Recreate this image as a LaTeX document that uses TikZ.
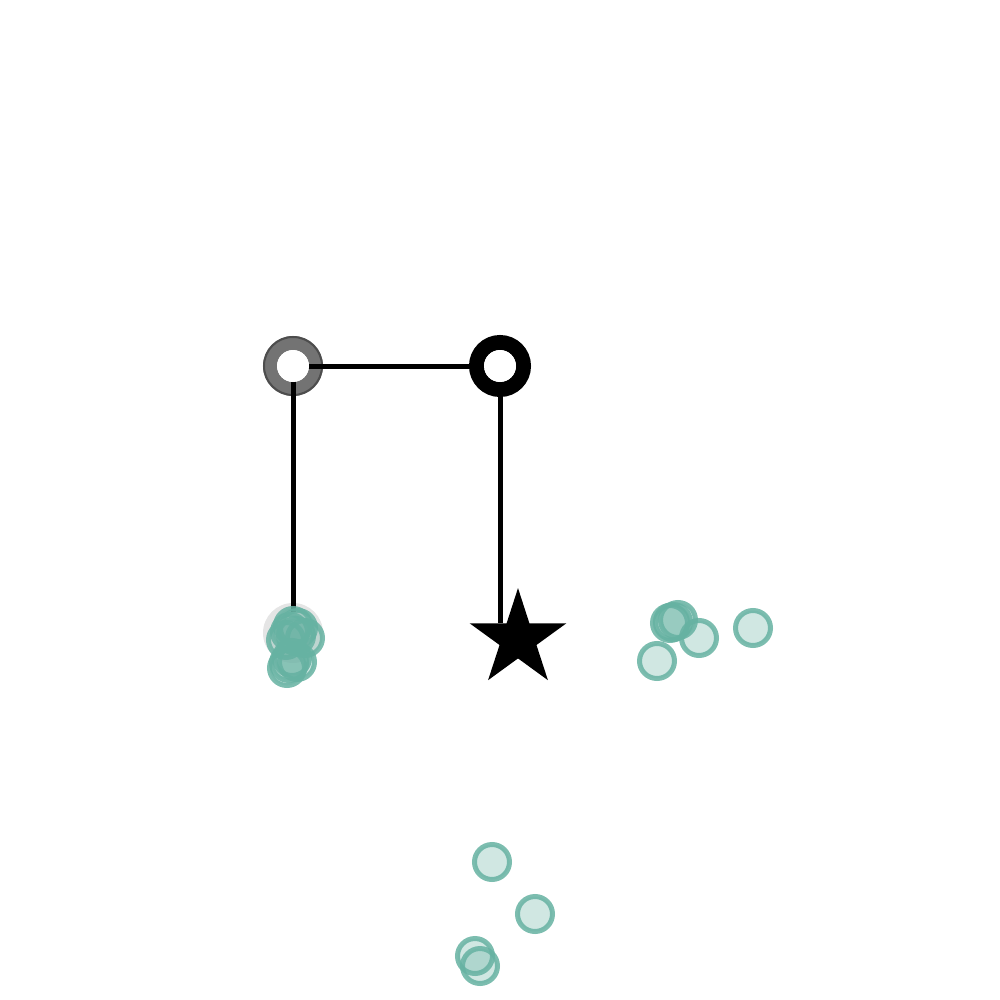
\documentclass[tikz,border=0pt]{standalone}
\definecolor{tealedge}{HTML}{66B2A2}
\definecolor{ringgray}{HTML}{737373}
\definecolor{ringedge}{HTML}{4D4D4D}
\tikzset{
  dot/.style={circle, inner sep=0pt, minimum size=35pt, line width=5pt,
    draw=tealedge, draw opacity=0.85, fill=tealedge, fill opacity=0.3},
  ghost/.style={circle, inner sep=0pt, minimum size=60pt, fill=black, fill opacity=0.1},
  hole/.style={circle, inner sep=0pt, minimum size=32pt, fill=white},
  conn/.style={line width=5pt, black},
}
\begin{document}
\begin{tikzpicture}[x=1pt,y=-1pt]
\useasboundingbox[fill=white] (0,0) rectangle (1000,1000);
% rings
\node[circle, inner sep=0pt, minimum size=46pt, line width=14pt, draw=ringgray] (g) at (293,366) {};
\draw[ringedge, line width=2pt] (g.center) circle (29pt);
\node[circle, inner sep=0pt, minimum size=47pt, line width=15pt, draw=black] (b) at (500,366) {};
% connectors
\coordinate (gend) at (293,612);
\coordinate (bend) at (500,623);
\draw[conn] (g.center) -- (b.center);
\draw[conn] (g.center) -- (gend);
\draw[conn] (b.center) -- (bend);
\node[hole] (gh) at (g.center) {};
\node[hole] (bh) at (b.center) {};
% star
\node[inner sep=0pt] (s) at (518,639) {};
\begin{scope}[shift={(s.center)}]
\fill[black] (270:50.9) -- (306:19.4) -- (342:50.9) -- (18:19.4) -- (54:50.9)
  -- (90:19.4) -- (126:50.9) -- (162:19.4) -- (198:50.9) -- (234:19.4) -- cycle;
\end{scope}
% left cluster
\node[ghost] (ghost1) at (293,633) {};
\node[dot] (l1) at (293,626) {};
\node[dot] (l2) at (298,628) {};
\node[dot] (l3) at (290,632) {};
\node[dot] (l4) at (305,638) {};
\node[dot] (l5) at (286,640) {};
\node[dot] (l6) at (296,636) {};
\node[dot] (l7) at (292,658) {};
\node[dot] (l8) at (297,662) {};
\node[dot] (l9) at (287,668) {};
\node[dot] (l10) at (289,663) {};
% right cluster
\node[dot] (r1) at (670,623) {};
\node[dot] (r2) at (673,622) {};
\node[dot] (r3) at (678,620) {};
\node[dot] (r4) at (699,638) {};
\node[dot] (r5) at (657,661) {};
\node[dot] (r6) at (753,628) {};
% bottom cluster
\node[dot] (d1) at (492,862) {};
\node[dot] (d2) at (535,914) {};
\node[dot] (d3) at (475,956) {};
\node[dot] (d4) at (480,966) {};
\end{tikzpicture}
\end{document}
